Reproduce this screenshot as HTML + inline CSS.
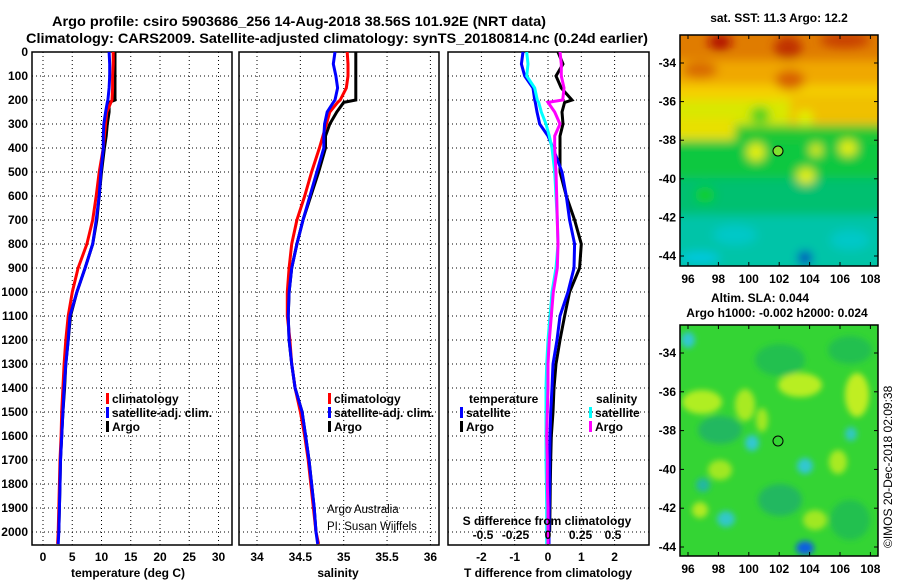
<!DOCTYPE html>
<html><head><meta charset="utf-8"><style>
html,body{margin:0;padding:0;background:#fff;}
svg{display:block;font-family:"Liberation Sans",sans-serif;}
.t{font-weight:bold;font-size:12px;}
</style></head><body>
<svg id="c" width="900" height="580" viewBox="0 0 900 580" xmlns="http://www.w3.org/2000/svg">
<defs>
<clipPath id="cp1"><rect x="32" y="36" width="200" height="509"/></clipPath>
<clipPath id="cp2"><rect x="239" y="36" width="200" height="509"/></clipPath>
<clipPath id="cp3"><rect x="448" y="36" width="201" height="509"/></clipPath>
<clipPath id="cm1"><rect x="680" y="35" width="198" height="231"/></clipPath>
<clipPath id="cm2"><rect x="680" y="325" width="198" height="231"/></clipPath>
<filter id="bl" x="-50%" y="-50%" width="200%" height="200%"><feGaussianBlur stdDeviation="5"/></filter>
<filter id="bl2" x="-50%" y="-50%" width="200%" height="200%"><feGaussianBlur stdDeviation="3"/></filter>
</defs>
<text x="299" y="26" text-anchor="middle" font-size="14" font-weight="bold" textLength="494" lengthAdjust="spacingAndGlyphs">Argo profile: csiro 5903686_256 14-Aug-2018 38.56S 101.92E (NRT data)</text>
<text x="337" y="43" text-anchor="middle" font-size="14" font-weight="bold" textLength="622" lengthAdjust="spacingAndGlyphs">Climatology: CARS2009. Satellite-adjusted climatology: synTS_20180814.nc (0.24d earlier)</text>

<!-- maps -->
<g clip-path="url(#cm1)">
<rect x="680" y="35" width="198" height="231" fill="#00c090"/>
<rect x="680" y="35" width="198" height="40" fill="#e07c00"/>
<g filter="url(#bl)">
<rect x="670" y="60" width="220" height="30" fill="#f0a800"/>
<rect x="670" y="85" width="220" height="20" fill="#f5d000"/>
<rect x="670" y="100" width="220" height="25" fill="#d8e800"/>
<rect x="670" y="118" width="65" height="26" fill="#e8e000"/>
<rect x="790" y="95" width="100" height="30" fill="#f0c000"/>
<rect x="735" y="125" width="155" height="15" fill="#20c830"/>
<rect x="670" y="140" width="220" height="40" fill="#10c840"/>
<rect x="670" y="178" width="220" height="40" fill="#00c070"/>
<rect x="670" y="215" width="220" height="55" fill="#00c4a8"/>
<ellipse cx="720" cy="42" rx="12" ry="8" fill="#b01000"/>
<ellipse cx="788" cy="48" rx="14" ry="12" fill="#c03000"/>
<ellipse cx="845" cy="40" rx="25" ry="8" fill="#c84000"/>
<ellipse cx="790" cy="80" rx="15" ry="10" fill="#d86000"/>
<ellipse cx="700" cy="70" rx="18" ry="8" fill="#d86800"/>
<ellipse cx="760" cy="115" rx="10" ry="8" fill="#40d020"/>
<ellipse cx="805" cy="118" rx="8" ry="8" fill="#e0f000"/>
<ellipse cx="756" cy="152" rx="9" ry="9" fill="#e8f000"/>
<ellipse cx="816" cy="150" rx="6" ry="6" fill="#e8f000"/>
<ellipse cx="848" cy="148" rx="9" ry="8" fill="#e8f000"/>
<ellipse cx="806" cy="176" rx="9" ry="8" fill="#e8f000"/>
<ellipse cx="705" cy="195" rx="10" ry="8" fill="#10d020"/>
<ellipse cx="735" cy="235" rx="22" ry="10" fill="#00c8c8"/>
<ellipse cx="700" cy="258" rx="20" ry="6" fill="#00c8e0"/>
<ellipse cx="850" cy="240" rx="20" ry="10" fill="#00c8c8"/>
<ellipse cx="805" cy="258" rx="7" ry="7" fill="#0020c0"/>
</g>
<circle cx="778" cy="151" r="5" fill="#80e030" stroke="#000" stroke-width="1"/>
</g>
<rect x="680" y="35" width="198" height="231" fill="none" stroke="#000" stroke-width="1.5"/>
<text x="779" y="22" text-anchor="middle" class="t" font-size="12.5">sat. SST: 11.3 Argo: 12.2</text>

<g clip-path="url(#cm2)">
<rect x="680" y="325" width="198" height="231" fill="#34d434"/>
<g filter="url(#bl2)">
<ellipse cx="800" cy="385" rx="22" ry="12" fill="#b8ee20"/>
<ellipse cx="857" cy="395" rx="12" ry="22" fill="#c0ee20"/>
<ellipse cx="702" cy="402" rx="20" ry="12" fill="#b0ee20"/>
<ellipse cx="745" cy="405" rx="10" ry="16" fill="#a8ea20"/>
<ellipse cx="762" cy="420" rx="6" ry="12" fill="#a0e820"/>
<ellipse cx="838" cy="462" rx="9" ry="12" fill="#a8ea20"/>
<ellipse cx="720" cy="470" rx="12" ry="10" fill="#a0e820"/>
<ellipse cx="700" cy="510" rx="8" ry="8" fill="#b0ea20"/>
<ellipse cx="815" cy="520" rx="12" ry="10" fill="#a0e820"/>
<ellipse cx="720" cy="430" rx="22" ry="14" fill="#20b860"/>
<ellipse cx="780" cy="360" rx="25" ry="16" fill="#20c050"/>
<ellipse cx="850" cy="350" rx="22" ry="14" fill="#20c050"/>
<ellipse cx="780" cy="500" rx="22" ry="16" fill="#20b860"/>
<ellipse cx="850" cy="520" rx="20" ry="20" fill="#20c050"/>
<ellipse cx="688" cy="340" rx="7" ry="8" fill="#30c8d0"/>
<ellipse cx="752" cy="443" rx="7" ry="8" fill="#30c8d0"/>
<ellipse cx="805" cy="466" rx="8" ry="8" fill="#30c8d0"/>
<ellipse cx="851" cy="434" rx="6" ry="7" fill="#30c8c0"/>
<ellipse cx="726" cy="519" rx="9" ry="8" fill="#30c8c8"/>
<ellipse cx="703" cy="485" rx="7" ry="7" fill="#20b8a0"/>
<ellipse cx="805" cy="548" rx="9" ry="7" fill="#1060e0"/>
</g>
<circle cx="778" cy="441" r="5" fill="none" stroke="#000" stroke-width="1"/>
</g>
<rect x="680" y="325" width="198" height="231" fill="none" stroke="#000" stroke-width="1.5"/>
<text x="760" y="302" text-anchor="middle" class="t" font-size="12.5">Altim. SLA: 0.044</text>
<text x="777" y="317" text-anchor="middle" class="t" font-size="12.5">Argo h1000: -0.002 h2000: 0.024</text>
<text transform="translate(892,548) rotate(-90)" font-size="12">©IMOS 20-Dec-2018 02:09:38</text>

<g id="plots"></g>
</svg>
<script>
// ---- data ----
const depths = [0,50,100,150,200,210,250,300,350,400,500,600,700,800,900,1000,1100,1200,1300,1400,1500,1600,1700,1800,1900,2000,2050];
const tempClim = [12.0,12.0,11.9,11.9,11.8,11.6,10.9,10.7,10.5,10.3,9.6,9.1,8.5,7.5,6.0,5.0,4.3,3.9,3.6,3.4,3.2,3.1,2.9,2.8,2.7,2.6,2.5];
const tempSat  = [11.3,11.4,11.4,11.3,11.1,11.0,10.7,10.4,10.3,10.3,9.9,9.6,9.1,8.5,7.2,5.8,4.6,4.3,3.9,3.6,3.4,3.2,3.0,2.9,2.8,2.7,2.6];
const tempArgo = [12.3,12.3,12.3,12.3,12.3,11.3,11.3,11.0,10.8,10.5,10.0,9.6,9.2,8.5,7.2,5.8,4.7,4.3,3.9,3.7,3.4,3.2,3.0,2.9,2.8,2.7];
const salClim = [35.04,35.05,35.05,35.03,34.96,34.93,34.84,34.80,34.76,34.72,34.63,34.55,34.46,34.40,34.37,34.35,34.35,34.38,34.40,34.44,34.50,34.55,34.59,34.62,34.65,34.68,34.71];
const salSat  = [34.90,34.88,34.91,34.93,34.90,34.88,34.81,34.78,34.77,34.77,34.69,34.61,34.53,34.46,34.40,34.37,34.36,34.37,34.40,34.44,34.52,34.56,34.60,34.63,34.66,34.68,34.70];
const salArgo = [35.14,35.14,35.14,35.14,35.14,35.00,34.92,34.84,34.79,34.79,34.71,34.62,34.53,34.46,34.40,34.37,34.36,34.37,34.40,34.44,34.52,34.56,34.60,34.63,34.66,34.68];
const dTSat  = [-0.75,-0.8,-0.7,-0.45,-0.4,-0.38,-0.33,-0.25,0,0.15,0.42,0.55,0.65,0.8,0.78,0.6,0.36,0.27,0.15,0.12,0.08,0.06,0.05,0.05,0.04,0.03,0.03];
const dTArgo = [0.3,0.45,0.24,0.4,0.72,0.5,0.42,0.45,0.36,0.36,0.36,0.55,0.8,1.0,0.95,0.65,0.5,0.36,0.24,0.18,0.15,0.1,0.08,0.07,0.06,0.05];
const dSSat  = [-0.16,-0.15,-0.16,-0.1,-0.08,-0.07,-0.05,-0.015,0.01,0.03,0.05,0.06,0.07,0.075,0.06,0.03,0.015,0,-0.01,-0.015,-0.015,-0.015,-0.015,-0.012,-0.01,-0.01,-0.01];
const dSArgo = [0.09,0.1,0.1,0.12,0.11,0,0.05,0.09,0.05,0.05,0.06,0.065,0.07,0.075,0.07,0.04,0.025,0.01,0,0,-0.005,-0.01,-0.005,-0.005,0,0,0];
const depthTicks = [0,100,200,300,400,500,600,700,800,900,1000,1100,1200,1300,1400,1500,1600,1700,1800,1900,2000];
const tempTicks = [0,5,10,15,20,25,30];
const salTicks = [34,34.5,35,35.5,36];
const salTickLabels = ["34","34.5","35","35.5","36"];
const dTTicks = [-2,-1,0,1,2];
const dSTicks = [-0.5,-0.25,0,0.25,0.5];
const dSTickLabels = ["-0.5","-0.25","0","0.25","0.5"];

// ---- scales ----
const NS = "http://www.w3.org/2000/svg";
const yD = d => 52 + d * 0.24;
const xT = v => 43 + v * 5.85;
const xS = v => 257 + (v - 34) * 86.7;
const xDT = v => 548 + v * 33.3;
const xDS = v => 548 + v * 133.2;
const xDSLabel = v => 548 + v * 130;
const root = document.getElementById('plots');
function mk(tag, attrs, parent) {
  const e = document.createElementNS(NS, tag);
  for (const k in attrs) e.setAttribute(k, attrs[k]);
  (parent || root).appendChild(e);
  return e;
}
function panel(x0, x1, xTicks, xf, labels, name) {
  const g = mk('g', {});
  
  
  xTicks.forEach(v => { mk('line', {x1: xf(v), x2: xf(v), y1: 52, y2: 545, stroke: '#000', 'stroke-width': 1, 'stroke-dasharray': '1,3'}, g); });
  depthTicks.forEach(d => { mk('line', {x1: x0, x2: x1, y1: yD(d), y2: yD(d), stroke: '#000', 'stroke-width': 1, 'stroke-dasharray': '1,3'}, g); });
  xTicks.forEach((v, i) => {
    const t = mk('text', {x: xf(v), y: 561, 'text-anchor': 'middle', class: 't'}, g);
    t.textContent = labels[i];
    
    
  });
  const f = mk('rect', {x: x0, y: 52, width: x1 - x0, height: 493, fill: 'none', stroke: '#000', 'stroke-width': 1.5}, g);
  
  
  return g;
}
function series(vals, xf, color, clip, name) {
  const pts = vals.map((v, i) => xf(v).toFixed(1) + ',' + yD(depths[i]).toFixed(1)).join(' ');
  const p = mk('polyline', {points: pts, fill: 'none', stroke: color, 'stroke-width': 3, 'stroke-linejoin': 'miter', 'clip-path': 'url(#' + clip + ')'});
  
  
}
function txt(x, y, s, name, extra) {
  const t = mk('text', Object.assign({x: x, y: y, class: 't'}, extra || {}));
  t.textContent = s;
  
  
  return t;
}
function legend(x, y, color, label, name) {
  const r = mk('rect', {x: x, y: y - 10, width: 3, height: 11, fill: color});
  
  
  txt(x + 6, y, label, name);
}

panel(32, 232, tempTicks, xT, tempTicks.map(String), 'temperature-panel');
panel(239, 439, salTicks, xS, salTickLabels, 'salinity-panel');
panel(448, 649, dTTicks, xDT, dTTicks.map(String), 'difference-panel');

depthTicks.forEach(d => txt(28, yD(d) + 4, String(d), 'depth-tick-label', {'text-anchor': 'end'}));

series(tempArgo, xT, '#000000', 'cp1', 'temp-argo-line');
series(tempClim, xT, '#ff0000', 'cp1', 'temp-climatology-line');
series(tempSat, xT, '#0000ff', 'cp1', 'temp-satellite-line');
series(salArgo, xS, '#000000', 'cp2', 'sal-argo-line');
series(salClim, xS, '#ff0000', 'cp2', 'sal-climatology-line');
series(salSat, xS, '#0000ff', 'cp2', 'sal-satellite-line');
series(dTArgo, xDT, '#000000', 'cp3', 'dt-argo-line');
series(dTSat, xDT, '#0000ff', 'cp3', 'dt-satellite-line');
series(dSSat, xDS, '#00ffff', 'cp3', 'ds-satellite-line');
series(dSArgo, xDS, '#ff00ff', 'cp3', 'ds-argo-line');

txt(128, 577, 'temperature (deg C)', 'temperature-axis-title', {'text-anchor': 'middle'});
txt(338, 577, 'salinity', 'salinity-axis-title', {'text-anchor': 'middle'});
txt(548, 577, 'T difference from climatology', 'dt-axis-title', {'text-anchor': 'middle'});
txt(547, 525, 'S difference from climatology', 's-diff-axis-title', {'text-anchor': 'middle'});
dSTicks.forEach((v, i) => txt(xDSLabel(v), 539, dSTickLabels[i], 's-diff-tick-label', {'text-anchor': 'middle'}));

legend(106, 403, '#ff0000', 'climatology', 'legend-temp-climatology');
legend(106, 417, '#0000ff', 'satellite-adj. clim.', 'legend-temp-satellite');
legend(106, 431, '#000000', 'Argo', 'legend-temp-argo');
legend(328, 403, '#ff0000', 'climatology', 'legend-sal-climatology');
legend(328, 417, '#0000ff', 'satellite-adj. clim.', 'legend-sal-satellite');
legend(328, 431, '#000000', 'Argo', 'legend-sal-argo');
txt(469, 403, 'temperature', 'legend-temperature-header');
txt(596, 403, 'salinity', 'legend-salinity-header');
legend(460, 417, '#0000ff', 'satellite', 'legend-dt-satellite');
legend(460, 431, '#000000', 'Argo', 'legend-dt-argo');
legend(589, 417, '#00ffff', 'satellite', 'legend-ds-satellite');
legend(589, 431, '#ff00ff', 'Argo', 'legend-ds-argo');

const a1 = txt(327, 513, 'Argo Australia', 'credit-argo-australia');
a1.setAttribute('class', ''); a1.setAttribute('font-size', '11.5');
const a2 = txt(327, 530, 'PI: Susan Wijffels', 'credit-pi');
a2.setAttribute('class', ''); a2.setAttribute('font-size', '11.5');

// map axes
const mapLon = [96,98,100,102,104,106,108];
const mapLat = [-34,-36,-38,-40,-42,-44];
const lonX = v => 688 + (v - 96) * 15.2;
const latY1 = v => 63 + (-34 - v) * 19.3;
const latY2 = v => 353 + (-34 - v) * 19.4;
[[35,266,latY1],[325,556,latY2]].forEach(([top, bot, ly]) => {
  mapLon.forEach(v => {
    mk('line', {x1: lonX(v), x2: lonX(v), y1: bot, y2: bot - 4, stroke: '#000'});
    mk('line', {x1: lonX(v), x2: lonX(v), y1: top, y2: top + 4, stroke: '#000'});
    txt(lonX(v), bot + 17, String(v), 'map-lon-tick-label', {'text-anchor': 'middle'});
  });
  mapLat.forEach(v => {
    mk('line', {x1: 680, x2: 684, y1: ly(v), y2: ly(v), stroke: '#000'});
    mk('line', {x1: 874, x2: 878, y1: ly(v), y2: ly(v), stroke: '#000'});
    txt(676, ly(v) + 4, String(v), 'map-lat-tick-label', {'text-anchor': 'end'});
  });
});
</script>
</body></html>
